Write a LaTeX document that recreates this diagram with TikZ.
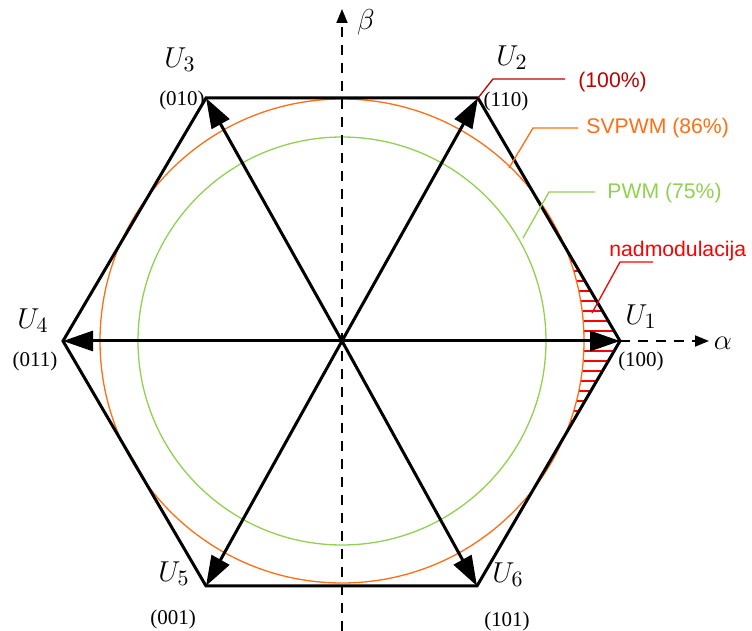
\documentclass[tikz,border=0pt]{standalone}
\usepackage{fontspec}
\setmainfont{Liberation Serif}
\newfontfamily\notefont{Liberation Sans}
\usetikzlibrary{arrows.meta}
\definecolor{svorange}{RGB}{255,110,20}
\definecolor{pwmgreen}{RGB}{146,208,80}
\definecolor{fullred}{RGB}{192,0,0}
\definecolor{ovred}{RGB}{255,0,0}
\tikzset{
  vec/.style={line width=1.5pt,-{Triangle[length=15pt,width=10pt]}},
  axis/.style={line width=0.9pt,dash pattern=on 5pt off 4pt,-{Triangle[length=7pt,width=5.5pt]}},
  hexline/.style={line width=1.5pt,line join=miter},
  lead/.style={line width=0.65pt},
  hatchline/.style={draw=ovred,line width=0.9pt},
  codelab/.style={font=\fontsize{10.5}{12}\selectfont,inner sep=0pt},
  ulab/.style={font=\fontsize{15}{18}\selectfont,inner sep=0pt},
  note/.style={font=\notefont\fontsize{10.6}{12}\selectfont,anchor=west,inner sep=0pt},
}
\begin{document}
\begin{tikzpicture}[x=0.5pt,y=-0.5pt]
    \useasboundingbox (0,0) rectangle (752,631);
    \coordinate (O) at (342,341);
    \coordinate (u1) at (620,341);
    \coordinate (u2) at (478,98);
    \coordinate (u3) at (206,98);
    \coordinate (u4) at (63,341);
    \coordinate (u5) at (206,586);
    \coordinate (u6) at (477,586);

    % overmodulation region
    \begin{scope}
      \clip (u2) -- (u1) -- (u6) -- cycle;
      \foreach \k in {-12,...,12} {\draw[hatchline] (540,341+\k*10) -- (630,341+\k*10);}
    \end{scope}
    \fill[white] (O) circle (242);

    \draw[pwmgreen,line width=0.65pt] (O) circle (204);
    \draw[svorange,line width=0.65pt] (O) circle (242);

    % axes
    \coordinate (bstart) at (342,631);
    \coordinate (bend) at (342,9);
    \coordinate (aend) at (709,341);
    \draw[axis] (bstart) -- (bend);
    \draw[axis] (u1) -- (aend);
    \node[ulab] (alpha) at (723,343) {$\alpha$};
    \node[ulab] (beta) at (366,22) {$\beta$};

    \foreach \v in {u1,u2,u3,u4,u5,u6} {\draw[vec] (O) -- (\v);}
    \draw[hexline] (u1) -- (u2) -- (u3) -- (u4) -- (u5) -- (u6) -- cycle;

    \node[ulab] (l1) at (641,317) {$U_1$};
    \node[ulab] (l2) at (512,58) {$U_2$};
    \node[ulab] (l3) at (180,60) {$U_3$};
    \node[ulab] (l4) at (33,321) {$U_4$};
    \node[ulab] (l5) at (174,574) {$U_5$};
    \node[ulab] (l6) at (508,575) {$U_6$};
    \node[codelab] (c1) at (641,361) {(100)};
    \node[codelab] (c2) at (506,101) {(110)};
    \node[codelab] (c3) at (182,100) {(010)};
    \node[codelab] (c4) at (35,361) {(011)};
    \node[codelab] (c5) at (173,619) {(001)};
    \node[codelab] (c6) at (507,621) {(101)};

    % leaders
    \coordinate (k1) at (493,79);
    \coordinate (k2) at (565,79);
    \draw[lead,fullred] (u2) -- (k1) -- (k2);
    \node[note,fullred] (full) at (578,82) {(100\%)};

    \coordinate (s0) at (509,168);
    \coordinate (s1) at (533,128);
    \coordinate (s2) at (578,128);
    \draw[lead,svorange] (s0) -- (s1) -- (s2);
    \node[note,svorange] (svpwm) at (586,128) {SVPWM (86\%)};

    \coordinate (p0) at (523,238);
    \coordinate (p1) at (549,192);
    \coordinate (p2) at (595,192);
    \draw[lead,pwmgreen] (p0) -- (p1) -- (p2);
    \node[note,pwmgreen] (pwm) at (607,193) {PWM (75\%)};

    \coordinate (n0) at (592,313);
    \coordinate (n1) at (620,262);
    \coordinate (n2) at (653,262);
    \draw[lead,ovred] (n0) -- (n1) -- (n2);
    \node[note,ovred,anchor=base west] (nadm) at (609,257) {nadmodulacija};
\end{tikzpicture}
\end{document}
